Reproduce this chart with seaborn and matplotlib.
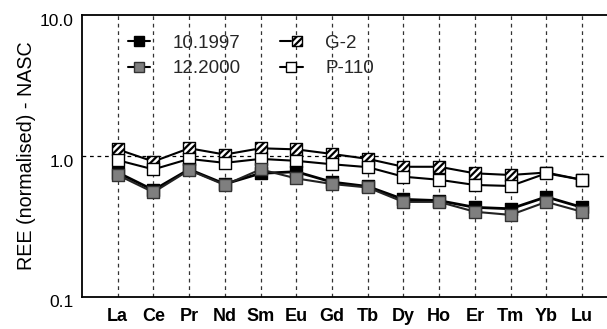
import numpy as np
import pandas as pd
import matplotlib
matplotlib.use("Agg")
import matplotlib.pyplot as plt
import matplotlib.transforms as mtransforms
from matplotlib.lines import Line2D
from matplotlib.legend_handler import HandlerTuple
import seaborn as sns

# ---- data ----
elements = ["La", "Ce", "Pr", "Nd", "Sm", "Eu", "Gd", "Tb", "Dy", "Ho", "Er", "Tm", "Yb", "Lu"]
s_1997 = [0.76, 0.57, 0.80, 0.63, 0.75, 0.77, 0.65, 0.605, 0.49, 0.48, 0.43, 0.42, 0.51, 0.43]
s_2000 = [0.73, 0.55, 0.79, 0.62, 0.80, 0.69, 0.63, 0.595, 0.47, 0.47, 0.40, 0.38, 0.47, 0.40]
g2 = [1.11, 0.91, 1.13, 1.02, 1.13, 1.11, 1.03, 0.95, 0.835, 0.835, 0.75, 0.73, 0.76, 0.675]
p110 = [0.93, 0.80, 0.95, 0.89, 0.95, 0.92, 0.87, 0.83, 0.71, 0.675, 0.62, 0.61, 0.75, 0.675]
series_labels = ["10.1997", "12.2000", "G-2", "P-110"]
yticks = [0.1, 1.0, 10.0]
ytick_labels = ["0.1", "1.0", "10.0"]
ylabel = "REE (normalised) - NASC"

sns.set_theme(style="white")
plt.rcParams["font.family"] = ["Liberation Sans", "DejaVu Sans"]
plt.rcParams["hatch.linewidth"] = 1.6

pos = np.arange(len(elements))

fig = plt.figure(figsize=(6.07, 3.29), dpi=100)
ax = fig.add_axes([82 / 607, 32.5 / 329, 525 / 607, 281.5 / 329])

MS = 74  # scatter marker area (pt^2)

# G-2 (hatched)
sns.lineplot(x=pos, y=g2, ax=ax, color="black", lw=1.5, zorder=3)
sns.scatterplot(x=pos, y=g2, ax=ax, marker="s", s=MS, color="white",
                edgecolor="black", linewidth=1.0, hatch="/////", zorder=4)
# P-110 (white)
sns.lineplot(x=pos, y=p110, ax=ax, color="black", lw=1.5, zorder=5)
sns.scatterplot(x=pos, y=p110, ax=ax, marker="s", s=MS, color="white",
                edgecolor="black", linewidth=1.0, zorder=6)
# 10.1997 (black)
sns.lineplot(x=pos, y=s_1997, ax=ax, color="black", lw=2.0, zorder=7)
sns.scatterplot(x=pos, y=s_1997, ax=ax, marker="s", s=MS, color="black",
                edgecolor="black", linewidth=1.0, zorder=8)
# 12.2000 (grey)
sns.lineplot(x=pos, y=s_2000, ax=ax, color="#222222", lw=1.5, zorder=9)
sns.scatterplot(x=pos, y=s_2000, ax=ax, marker="s", s=MS, color="#7f7f7f",
                edgecolor="#333333", linewidth=1.0, zorder=10)

ax.set_yscale("log")
ax.set_ylim(0.1, 10.0)
ax.set_xlim(-1.0, 13.7)
ax.set_yticks(yticks)
ax.set_yticklabels(ytick_labels, fontsize=12.5)
ax.yaxis.set_minor_locator(matplotlib.ticker.NullLocator())
ax.set_xticks(pos)
ax.set_xticklabels(elements, fontsize=13, fontweight="bold")
ax.tick_params(axis="y", direction="in", length=4, width=1, pad=6, colors="black")
ax.tick_params(axis="x", length=0, pad=8.5, colors="black")
ax.set_xlabel("")
ax.set_ylabel(ylabel, fontsize=14.2, labelpad=3, color="black")

# grids
for p in pos:
    ax.axvline(p, color="#333333", lw=0.9, ls=(0, (3, 3)), zorder=1)
ax.axhline(1.0, color="black", lw=0.9, ls=(0, (3, 3)), zorder=1)

for side in ["left", "bottom", "top"]:
    ax.spines[side].set_visible(True)
    ax.spines[side].set_color("black")
    ax.spines[side].set_linewidth(1.3)
ax.spines["right"].set_visible(False)

# shift y tick labels slightly downward like the reference
off = mtransforms.ScaledTranslation(0, -3.5 / 72, fig.dpi_scale_trans)
for lab in ax.get_yticklabels():
    lab.set_transform(lab.get_transform() + off)

# legend
h1997 = Line2D([], [], color="black", lw=1.5, marker="s", markersize=7,
               markerfacecolor="black", markeredgecolor="black")
h2000 = Line2D([], [], color="black", lw=1.5, marker="s", markersize=7,
               markerfacecolor="#7f7f7f", markeredgecolor="#333333")
hline = Line2D([], [], color="black", lw=1.5)
hg2 = ax.scatter([], [], marker="s", s=52, c="white", edgecolors="black",
                 linewidths=1.0, hatch="/////")
hp110 = Line2D([], [], color="black", lw=1.5, marker="s", markersize=7,
               markerfacecolor="white", markeredgecolor="black")
leg = ax.legend([h1997, h2000, (hline, hg2), hp110], series_labels,
                handler_map={tuple: HandlerTuple(ndivide=None, pad=0)},
                ncol=2, loc="upper left", bbox_to_anchor=(0.087, 0.93),
                frameon=False, fontsize=13.5, handlelength=1.2,
                handletextpad=1.2, columnspacing=2.1, labelspacing=0.45,
                borderpad=0, borderaxespad=0, scatteryoffsets=[0.5])

fig.savefig("out.png", dpi=100)
